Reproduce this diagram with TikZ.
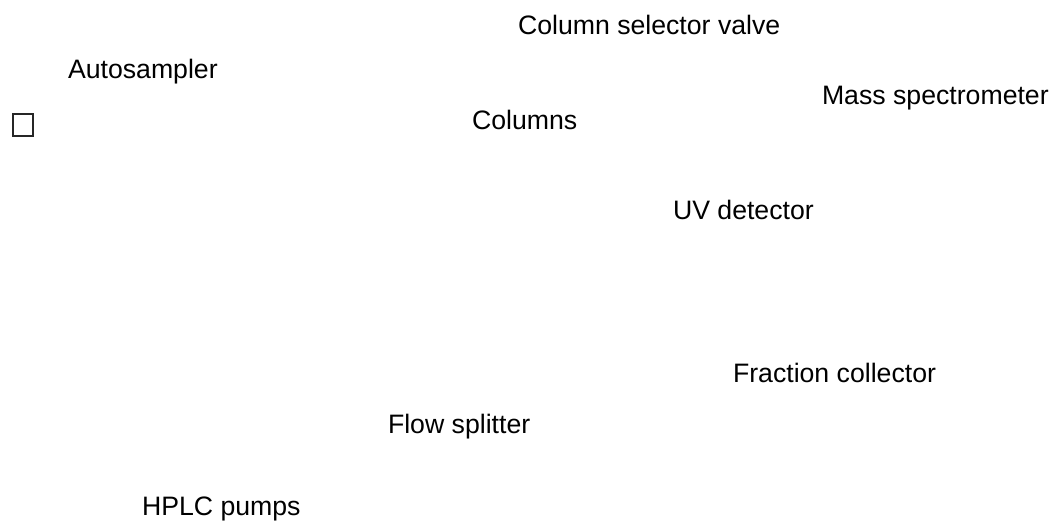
\documentclass[tikz,border=0pt]{standalone}
\usepackage{fontspec}
\setmainfont{Liberation Sans}
\begin{document}
\begin{tikzpicture}[x=0.75pt,y=-0.75pt,
  lbl/.style={anchor=base west,inner sep=0pt,outer sep=0pt,font=\fontsize{20}{24}\selectfont,text=black},
  boxmark/.style={draw=black!85,line width=1.5pt,fill=white}]
\useasboundingbox[fill=white] (0,0) rectangle (1061,521);
\node[lbl] (csv) at (518,35) {Column selector valve};
\node[lbl] (auto) at (68,78) {Autosampler};
\node[lbl] (ms) at (822,104) {Mass spectrometer};
\node[lbl] (col) at (472,129) {Columns};
\node[lbl] (uv) at (673,219) {UV detector};
\node[lbl] (fc) at (733,382) {Fraction collector};
\node[lbl] (fs) at (388,433) {Flow splitter};
\node[lbl] (hplc) at (142,515) {HPLC pumps};
\draw[boxmark] (12.5,113.5) rectangle (32.5,135.5);
\end{tikzpicture}
\end{document}
